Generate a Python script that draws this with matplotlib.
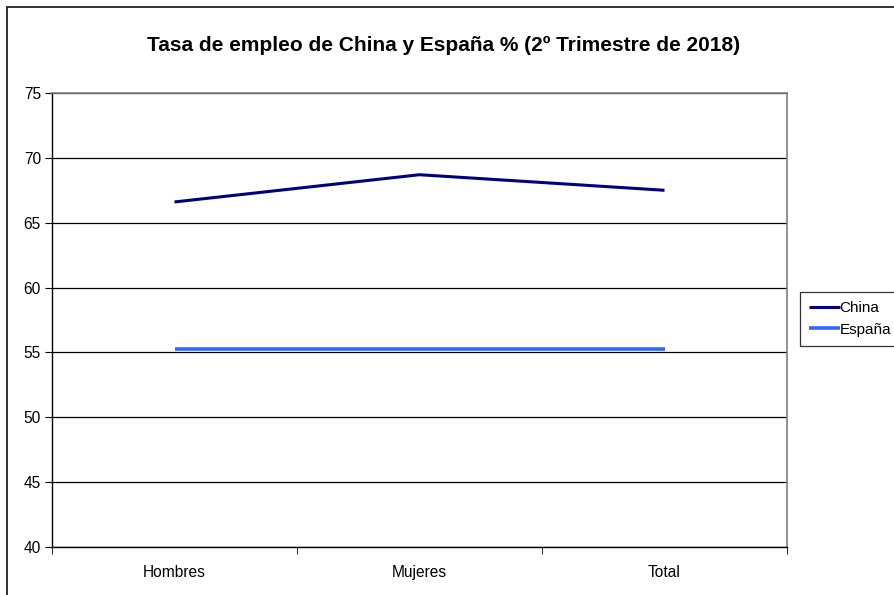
import matplotlib
matplotlib.use("Agg")
from matplotlib import pyplot as plt
from matplotlib.patches import Rectangle

categorias = ["Hombres", "Mujeres", "Total"]
china = [66.6, 68.7, 67.5]
espana = [55.3, 55.3, 55.3]
titulo = "Tasa de empleo de China y España % (2º Trimestre de 2018)"

plt.rcParams['font.family'] = ['Liberation Sans', 'DejaVu Sans']

fig = plt.figure(figsize=(8.94, 5.95), dpi=100)
ax = fig.add_axes([52/894, 1 - 547/595, (787 - 52)/894, (547 - 93)/595])

x = list(range(len(categorias)))
ax.plot(x, china, color='#000080', lw=2.2, label='China', solid_capstyle='butt')
ax.plot(x, espana, color='#3366FF', lw=2.6, label='España', solid_capstyle='butt')

ax.set_xlim(-0.5, len(categorias) - 0.5)
ax.set_ylim(40, 75)
ax.set_yticks(range(40, 76, 5))
ax.yaxis.grid(True, color='black', lw=0.9)
ax.set_axisbelow(True)

ax.set_xticks(x)
ax.set_xticklabels(categorias, fontsize=11.2)
ax.tick_params(axis='x', length=0, pad=13)
ax.set_xticks([i - 0.5 for i in range(len(categorias) + 1)], minor=True)
ax.tick_params(axis='x', which='minor', length=5, direction='out', color='black')
ax.tick_params(axis='y', length=5, direction='out', labelsize=11.2, pad=3)

for s in ['left', 'bottom']:
    ax.spines[s].set_color('black')
    ax.spines[s].set_linewidth(1.0)
for s in ['top', 'right']:
    ax.spines[s].set_color('#808080')
    ax.spines[s].set_linewidth(1.2)

fig.text(444/894, 1 - 45/595, titulo, ha='center', va='center',
         fontsize=15, fontweight='bold')

leg = ax.legend(loc='upper left', bbox_to_anchor=(800/894, 1 - 292/595),
                bbox_transform=fig.transFigure, frameon=True, fancybox=False,
                fontsize=11, handlelength=2.0, handletextpad=0.0,
                borderpad=0.6, labelspacing=0.5, borderaxespad=0)
leg.get_frame().set_edgecolor('black')
leg.get_frame().set_linewidth(0.9)

fig.patches.append(Rectangle((7/894, -0.1), 2, 1 - 7/595 + 0.1,
                             transform=fig.transFigure, fill=False,
                             edgecolor='#202020', lw=1.3))

fig.savefig('out.png', dpi=100)
